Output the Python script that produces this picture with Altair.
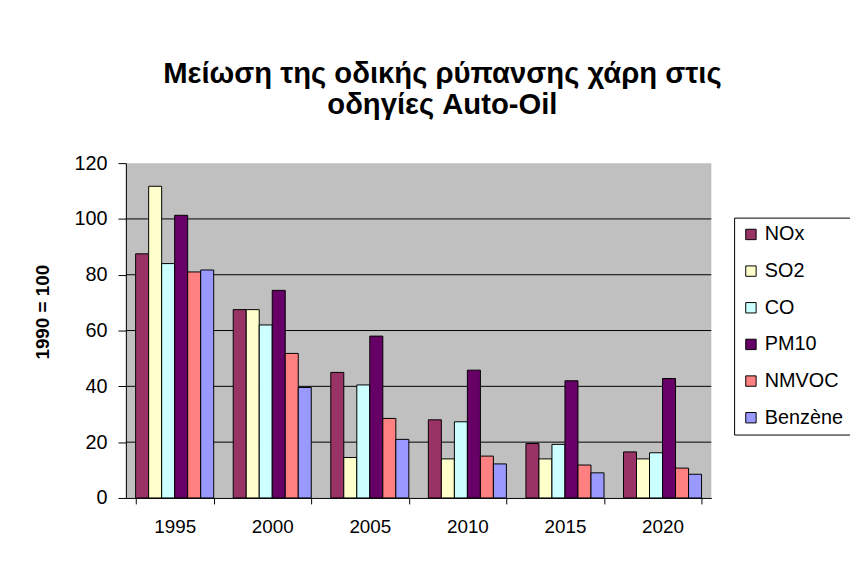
import altair as alt
import pandas as pd

years = ["1995", "2000", "2005", "2010", "2015", "2020"]
series = ["NOx", "SO2", "CO", "PM10", "NMVOC", "Benzène"]
nox = [87.5, 67.5, 45.0, 28.0, 19.5, 16.5]
so2 = [111.7, 67.5, 14.5, 14.0, 14.0, 14.0]
co = [84.0, 62.0, 40.5, 27.3, 19.2, 16.2]
pm10 = [101.3, 74.4, 58.0, 45.8, 42.0, 42.8]
nmvoc = [81.0, 51.8, 28.5, 15.0, 11.8, 10.7]
benzene = [81.7, 39.6, 21.0, 12.2, 9.0, 8.5]
colors = ["#993366", "#FFFFCC", "#CCFFFF", "#660066", "#FF8080", "#9999FF"]
gridlines = [20, 40, 60, 80, 100]
ticks = [0, 20, 40, 60, 80, 100, 120]

values = [nox, so2, co, pm10, nmvoc, benzene]
rows = []
for s, vals in zip(series, values):
    for y, v in zip(years, vals):
        rows.append({"year": y, "series": s, "value": v})
df = pd.DataFrame(rows)
grid_df = pd.DataFrame({"value": gridlines})

FONT = "Liberation Sans"
yscale = alt.Scale(domain=[0, 120], nice=False)
yaxis = alt.Axis(title="1990 = 100", values=ticks,
                 grid=False,
                 domainColor="black", tickColor="black", tickSize=8,
                 labelFont=FONT, labelFontSize=20, labelColor="black",
                 labelPadding=11,
                 titleFont=FONT, titleFontSize=19, titleFontWeight="bold",
                 titleColor="black", titleX=-74, titleY=150,
                 titleAngle=270, titleAlign="center")

grid = alt.Chart(grid_df).mark_rule(color="black", strokeWidth=1).encode(
    y=alt.Y("value:Q", scale=yscale, axis=yaxis)
)

bars = alt.Chart(df).mark_bar(stroke="black", strokeWidth=1).encode(
    x=alt.X("year:N", sort=years,
            scale=alt.Scale(paddingInner=0.2, paddingOuter=0.1),
            axis=alt.Axis(title=None, labelAngle=0, tickBand="extent",
                          domainColor="black", tickColor="black", tickSize=6,
                          labelFont=FONT, labelFontSize=19, labelColor="black",
                          labelPadding=14, grid=False)),
    xOffset=alt.XOffset("series:N", sort=series, scale=alt.Scale(paddingInner=0, paddingOuter=0)),
    y=alt.Y("value:Q", scale=yscale, axis=yaxis),
    color=alt.Color("series:N", sort=series,
                    scale=alt.Scale(domain=series, range=colors),
                    legend=alt.Legend(title=None, orient="none", legendX=614, legendY=55,
                                      symbolType="square", symbolSize=110,
                                      symbolStrokeColor="black", symbolStrokeWidth=1,
                                      symbolOpacity=1,
                                      labelFont=FONT, labelFontSize=20, labelColor="black",
                                      labelOffset=4,
                                      rowPadding=17, padding=7,
                                      strokeColor="black", fillColor="white",
                                      labelLimit=200)),
)

chart = alt.layer(grid, bars).properties(
    width=591,
    height=338,
    background="white",
    title=alt.TitleParams(
        text=["Μείωση της οδικής ρύπανσης χάρη στις", "οδηγίες Auto-Oil"],
        font=FONT, fontSize=29.5, fontWeight="bold", color="black",
        anchor="middle", dx=24, offset=33, lineHeight=31),
    autosize=alt.AutoSizeParams(type="none"),
    padding={"left": 119, "top": 154, "right": 140, "bottom": 57},
).configure_view(
    fill="#C0C0C0", strokeWidth=0
)

chart.save("out.html", embed_options={"renderer": "svg", "actions": False})
